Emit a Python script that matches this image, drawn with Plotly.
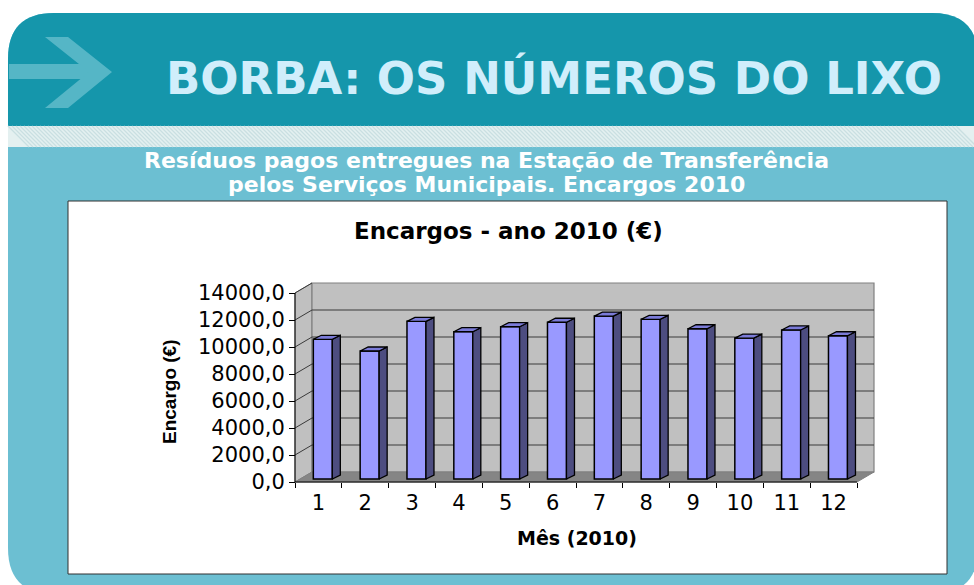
import plotly.graph_objects as go

# ---------------- data ----------------
MONTHS = [1, 2, 3, 4, 5, 6, 7, 8, 9, 10, 11, 12]
MONTH_LABELS = ["1", "2", "3", "4", "5", "6", "7", "8", "9", "10", "11", "12"]
ENCARGOS = [10350, 9480, 11680, 10910, 11280, 11610, 12070, 11830, 11130, 10440, 11040, 10610]
Y_TICKS = [0, 2000, 4000, 6000, 8000, 10000, 12000, 14000]
Y_TICK_LABELS = ["0,0", "2000,0", "4000,0", "6000,0", "8000,0", "10000,0", "12000,0", "14000,0"]

PAGE_TITLE = "BORBA: OS NÚMEROS DO LIXO"
SUB_1 = "Resíduos pagos entregues na Estação de Transferência"
SUB_2 = "pelos Serviços Municipais. Encargos 2010"
CHART_TITLE = "Encargos - ano 2010 (€)"
Y_TITLE = "Encargo (€)"
X_TITLE = "Mês (2010)"

# ---------------- geometry (pixels) ----------------
W, H = 974, 585
PL, PR, PB, PT = 295, 874, 482, 283      # front-left axis, back-right edge, floor front, wall top
WALL_DX, WALL_DY = 17, 10               # depth of the 3-D box
PAD = 3
Y_MAX = Y_TICKS[-1]
x_lo, x_hi = MONTHS[0] - 0.5, MONTHS[-1] + 0.5
ppx = (PR - WALL_DX - PL) / (x_hi - x_lo)
ppy = (PB - PT - WALL_DY) / Y_MAX
DXU, DYU = WALL_DX / ppx, WALL_DY / ppy

BW = 19 / ppx            # bar front width
BOX = 4.4 / ppx          # bar front offset into depth
BOY = 3.0 / ppy
BDX = 8 / ppx            # bar depth
BDY = 4 / ppy

FRONT = "#9999ff"
SIDE = "#4d4d80"
TOPC = "#7b7bd8"

fig = go.Figure()

fig.add_trace(go.Bar(
    x=[m + BOX for m in MONTHS], y=ENCARGOS, base=BOY, width=BW,
    marker=dict(color=FRONT, line=dict(color="black", width=1.5)),
    hoverinfo="skip", showlegend=False))

sx, sy, tx, ty = [], [], [], []
for m, v in zip(MONTHS, ENCARGOS):
    xl = m + BOX - BW / 2
    xr = m + BOX + BW / 2
    b, t = BOY, BOY + v
    sx += [xr, xr + BDX, xr + BDX, xr, xr, None]
    sy += [b, b + BDY, t + BDY, t, b, None]
    tx += [xl, xl + BDX, xr + BDX, xr, xl, None]
    ty += [t, t + BDY, t + BDY, t, t, None]

fig.add_trace(go.Scatter(x=sx, y=sy, mode="lines", fill="toself", fillcolor=SIDE,
                         line=dict(color="black", width=1.3), hoverinfo="skip", showlegend=False))
fig.add_trace(go.Scatter(x=tx, y=ty, mode="lines", fill="toself", fillcolor=TOPC,
                         line=dict(color="black", width=1.3), hoverinfo="skip", showlegend=False))

# ---------------- 3-D walls (axis coordinates) ----------------
def dpath(pts, close=True):
    s = "M " + " L ".join(f"{x:.5f},{y:.3f}" for x, y in pts)
    return s + (" Z" if close else "")

shapes = []

def P(x, y):
    return f"{x / W:.5f},{1 - y / H:.5f}"

# page decorations (paper coordinates)
R = 46
L0, R0, T0, B0 = 8, 978, 13, 594
body = (f"M {P(L0 + R, T0)} L {P(R0 - R, T0)} Q {P(R0, T0)} {P(R0, T0 + R)} "
        f"L {P(R0, B0 - R)} Q {P(R0, B0)} {P(R0 - R, B0)} L {P(L0 + R, B0)} "
        f"Q {P(L0, B0)} {P(L0, B0 - R)} L {P(L0, T0 + R)} Q {P(L0, T0)} {P(L0 + R, T0)} Z")
shapes.append(dict(type="path", xref="paper", yref="paper", path=body,
                   fillcolor="#6cbfd2", line=dict(width=0), layer="below"))
header = (f"M {P(L0, 126)} L {P(L0, T0 + R)} Q {P(L0, T0)} {P(L0 + R, T0)} "
          f"L {P(R0 - R, T0)} Q {P(R0, T0)} {P(R0, T0 + R)} L {P(R0, 126)} Z")
shapes.append(dict(type="path", xref="paper", yref="paper", path=header,
                   fillcolor="#1596ab", line=dict(width=0), layer="below"))
shapes.append(dict(type="rect", xref="paper", yref="paper",
                   x0=L0 / W, x1=R0 / W, y0=1 - 147 / H, y1=1 - 126 / H,
                   fillcolor="#e4f0f0", line=dict(width=0), layer="below"))
# hatching of the band
for xs in range(L0, R0 - 21, 4):
    shapes.append(dict(type="line", xref="paper", yref="paper",
                       x0=xs / W, y0=1 - 126 / H, x1=(xs + 21) / W, y1=1 - 147 / H,
                       line=dict(color="#c9dfe1", width=1.3), layer="below"))
# arrow
arrow_bar = f"M {P(9, 64)} L {P(95, 64)} L {P(95, 79)} L {P(9, 79)} Z"
arrow_chev = (f"M {P(45, 37)} L {P(68, 37)} L {P(112, 72)} L {P(68, 108)} "
              f"L {P(45, 108)} L {P(89, 72)} Z")
for pth in (arrow_bar, arrow_chev):
    shapes.append(dict(type="path", xref="paper", yref="paper", path=pth,
                       fillcolor="#55b6c6", line=dict(width=0), layer="below"))
# white chart box
shapes.append(dict(type="rect", xref="paper", yref="paper",
                   x0=68 / W, x1=947 / W, y0=1 - 574 / H, y1=1 - 201 / H,
                   fillcolor="white", line=dict(color="#303030", width=1), layer="below"))

# side wall, back wall, floor
shapes.append(dict(type="path", xref="x", yref="y", layer="below",
                   path=dpath([(x_lo, 0), (x_lo, Y_MAX), (x_lo + DXU, Y_MAX + DYU), (x_lo + DXU, DYU)]),
                   fillcolor="#c0c0c0", line=dict(color="#808080", width=1)))
shapes.append(dict(type="path", xref="x", yref="y", layer="below",
                   path=dpath([(x_lo + DXU, DYU), (x_lo + DXU, Y_MAX + DYU), (x_hi + DXU, Y_MAX + DYU), (x_hi + DXU, DYU)]),
                   fillcolor="#c0c0c0", line=dict(color="#808080", width=1.2)))
shapes.append(dict(type="path", xref="x", yref="y", layer="below",
                   path=dpath([(x_lo, 0), (x_lo + DXU, DYU), (x_hi + DXU, DYU), (x_hi, 0)]),
                   fillcolor="#858585", line=dict(color="#808080", width=1)))
for v in Y_TICKS[1:-1]:
    shapes.append(dict(type="path", xref="x", yref="y", layer="below",
                       path=dpath([(x_lo, v), (x_lo + DXU, v + DYU), (x_hi + DXU, v + DYU)], close=False),
                       line=dict(color="#3a3a3a", width=1)))
shapes.append(dict(type="path", xref="x", yref="y", layer="below",
                   path=dpath([(x_lo, Y_MAX), (x_lo + DXU, Y_MAX + DYU)], close=False),
                   line=dict(color="#3a3a3a", width=1)))
# front axis lines
shapes.append(dict(type="path", xref="x", yref="y", layer="below",
                   path=dpath([(x_lo, 0), (x_lo, Y_MAX)], close=False), line=dict(color="black", width=1)))
shapes.append(dict(type="path", xref="x", yref="y", layer="below",
                   path=dpath([(x_lo, 0), (x_hi, 0)], close=False), line=dict(color="black", width=1)))

FONT = "DejaVu Sans"
ann = [
    dict(text=f"<b>{PAGE_TITLE}</b>", x=554 / W, y=1 - 79 / H, font=dict(family=FONT, size=45, color="#d0eefb")),
    dict(text=f"<b>{SUB_1}</b>", x=486 / W, y=1 - 160 / H, font=dict(family=FONT, size=22, color="white")),
    dict(text=f"<b>{SUB_2}</b>", x=486 / W, y=1 - 184 / H, font=dict(family=FONT, size=22, color="white")),
    dict(text=f"<b>{CHART_TITLE}</b>", x=509 / W, y=1 - 231 / H, font=dict(family=FONT, size=23, color="black")),
    dict(text=f"<b>{X_TITLE}</b>", x=577 / W, y=1 - 538 / H, font=dict(family=FONT, size=19, color="black")),
    dict(text=f"<b>{Y_TITLE}</b>", x=170 / W, y=1 - 392 / H, textangle=-90,
         font=dict(family="Liberation Sans", size=19, color="black")),
]
for a in ann:
    a.update(xref="paper", yref="paper", showarrow=False, xanchor="center", yanchor="middle")

fig.update_layout(
    width=W, height=H, margin=dict(l=0, r=0, t=0, b=0),
    paper_bgcolor="white", plot_bgcolor="rgba(0,0,0,0)",
    shapes=shapes, annotations=ann, showlegend=False,
    xaxis=dict(domain=[(PL - PAD) / W, (PR + PAD) / W],
               range=[x_lo - PAD / ppx, x_hi + DXU + PAD / ppx],
               anchor="free", position=1 - PB / H,
               tickmode="array", tickvals=MONTHS, ticktext=MONTH_LABELS, ticks="",
               ticklabelstandoff=6,
               minor=dict(tickmode="array", tickvals=[m - 0.5 for m in MONTHS] + [x_hi],
                          ticks="outside", ticklen=5, tickcolor="black", showgrid=False),
               showgrid=False, zeroline=False, showline=False, automargin=False,
               tickfont=dict(family=FONT, size=21, color="black"), fixedrange=True),
    yaxis=dict(domain=[1 - (PB + PAD) / H, 1 - (PT - PAD) / H],
               range=[-PAD / ppy, Y_MAX + DYU + PAD / ppy],
               anchor="free", position=PL / W,
               tickmode="array", tickvals=Y_TICKS, ticktext=Y_TICK_LABELS,
               ticks="outside", ticklen=6, tickcolor="black",
               showgrid=False, zeroline=False, showline=False, automargin=False,
               tickfont=dict(family=FONT, size=21, color="black"), fixedrange=True),
)

fig.write_html("out.html", config={"displayModeBar": False},
               post_script="document.body.style.margin='0px';document.body.style.overflow='hidden';")
